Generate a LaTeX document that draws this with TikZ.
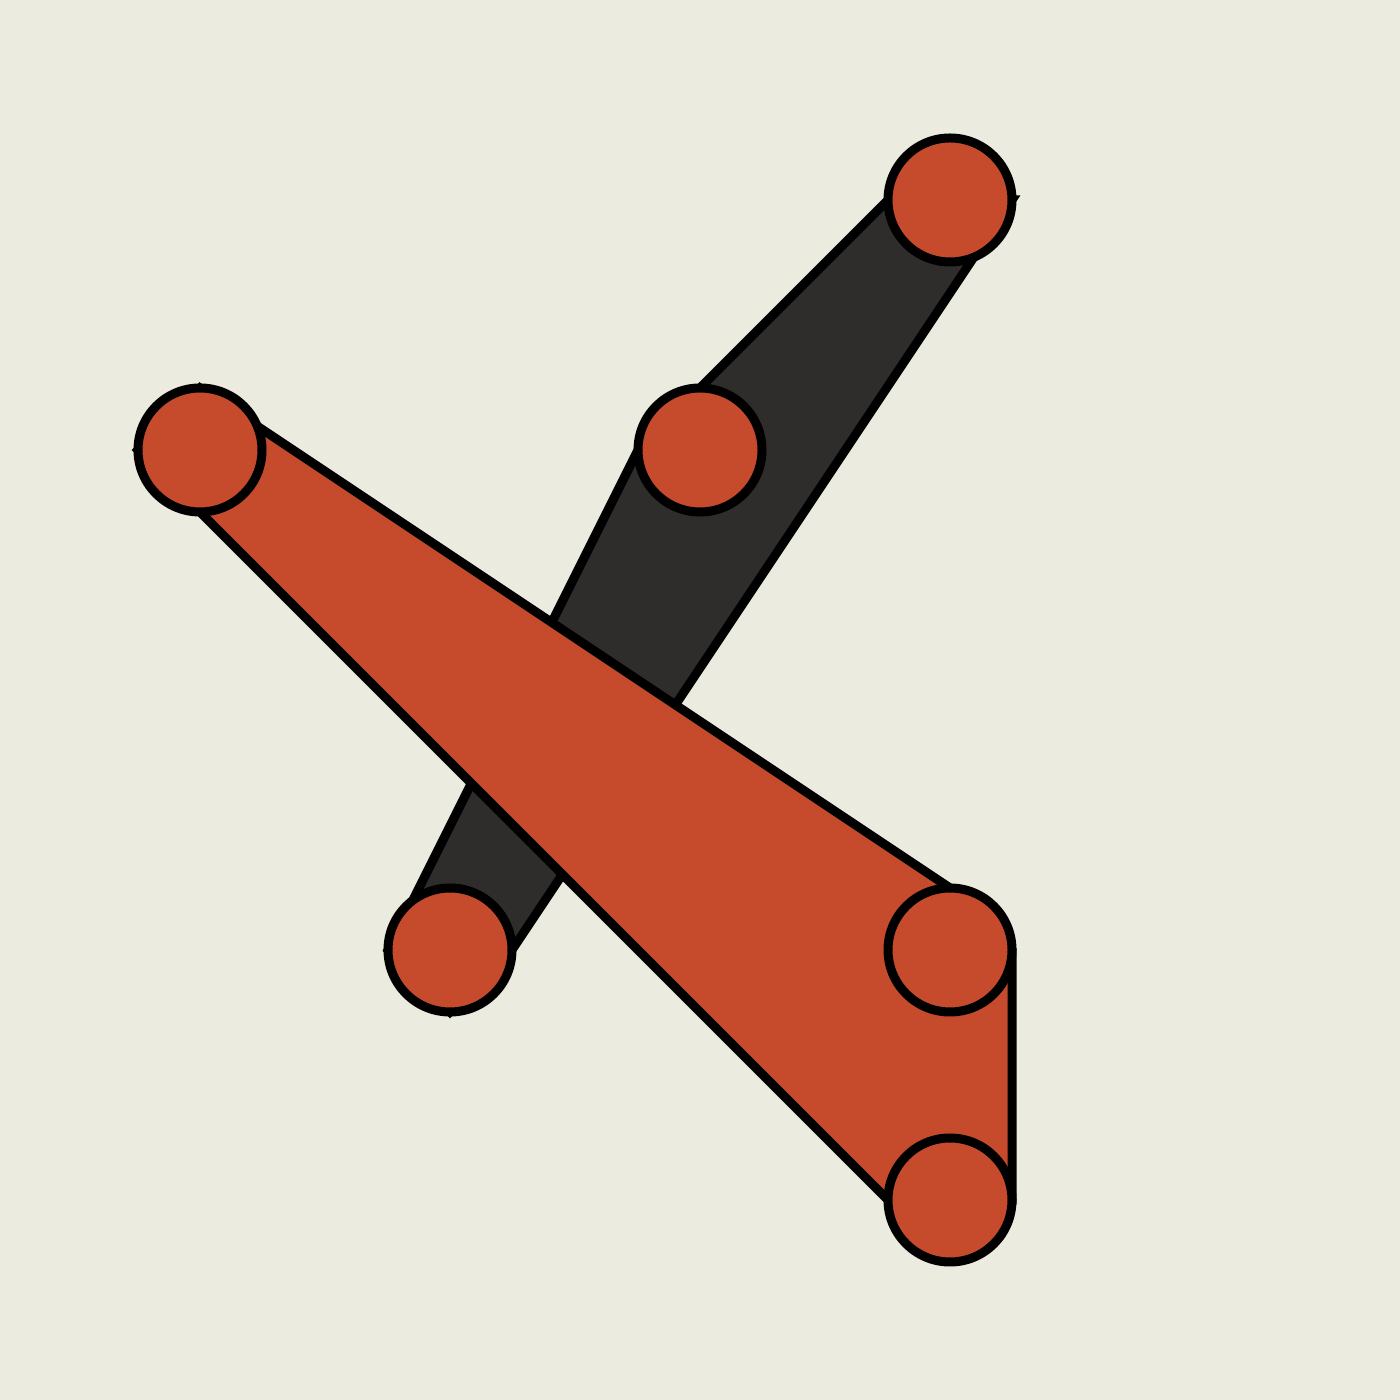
\documentclass[tikz,border=0pt]{standalone}
\usetikzlibrary{backgrounds}
\definecolor{paper}{HTML}{EBEBDF}
\definecolor{rust}{HTML}{C64B2D}
\definecolor{coal}{HTML}{2F2D2B}
\tikzset{
  dot/.style={circle,draw=black,fill=rust,line width=0.18cm,minimum size=2.48cm,inner sep=0pt,outer sep=0pt},
  hull/.style={draw=black,line width=0.18cm}
}
\begin{document}
\begin{tikzpicture}
          \useasboundingbox (0,0) rectangle (28,28);
          \node[dot] at (4,19) (a) {};
          \node[dot] at (19,9) (b) {};
          \node[dot] at (19,4) (c) {};
          \node[dot] at (9,9) (d) {};
          \node[dot] at (14,19) (e) {};
          \node[dot] at (19,24) (f) {};
          \begin{pgfonlayer}{background}
          \fill[paper] (0,0) rectangle (28,28);
          \path[hull,fill=coal] (d.west) -- (e.west) -- (e.north) -- (f.west) -- (f.east) -- (d.east) -- (d.south) -- cycle;
          \path[hull,fill=rust] (a.west) -- (a.north) -- (b.north) -- (b.east) -- (c.east) -- (c.west) -- (a.south) -- cycle;
          \end{pgfonlayer}
        \end{tikzpicture}
\end{document}
